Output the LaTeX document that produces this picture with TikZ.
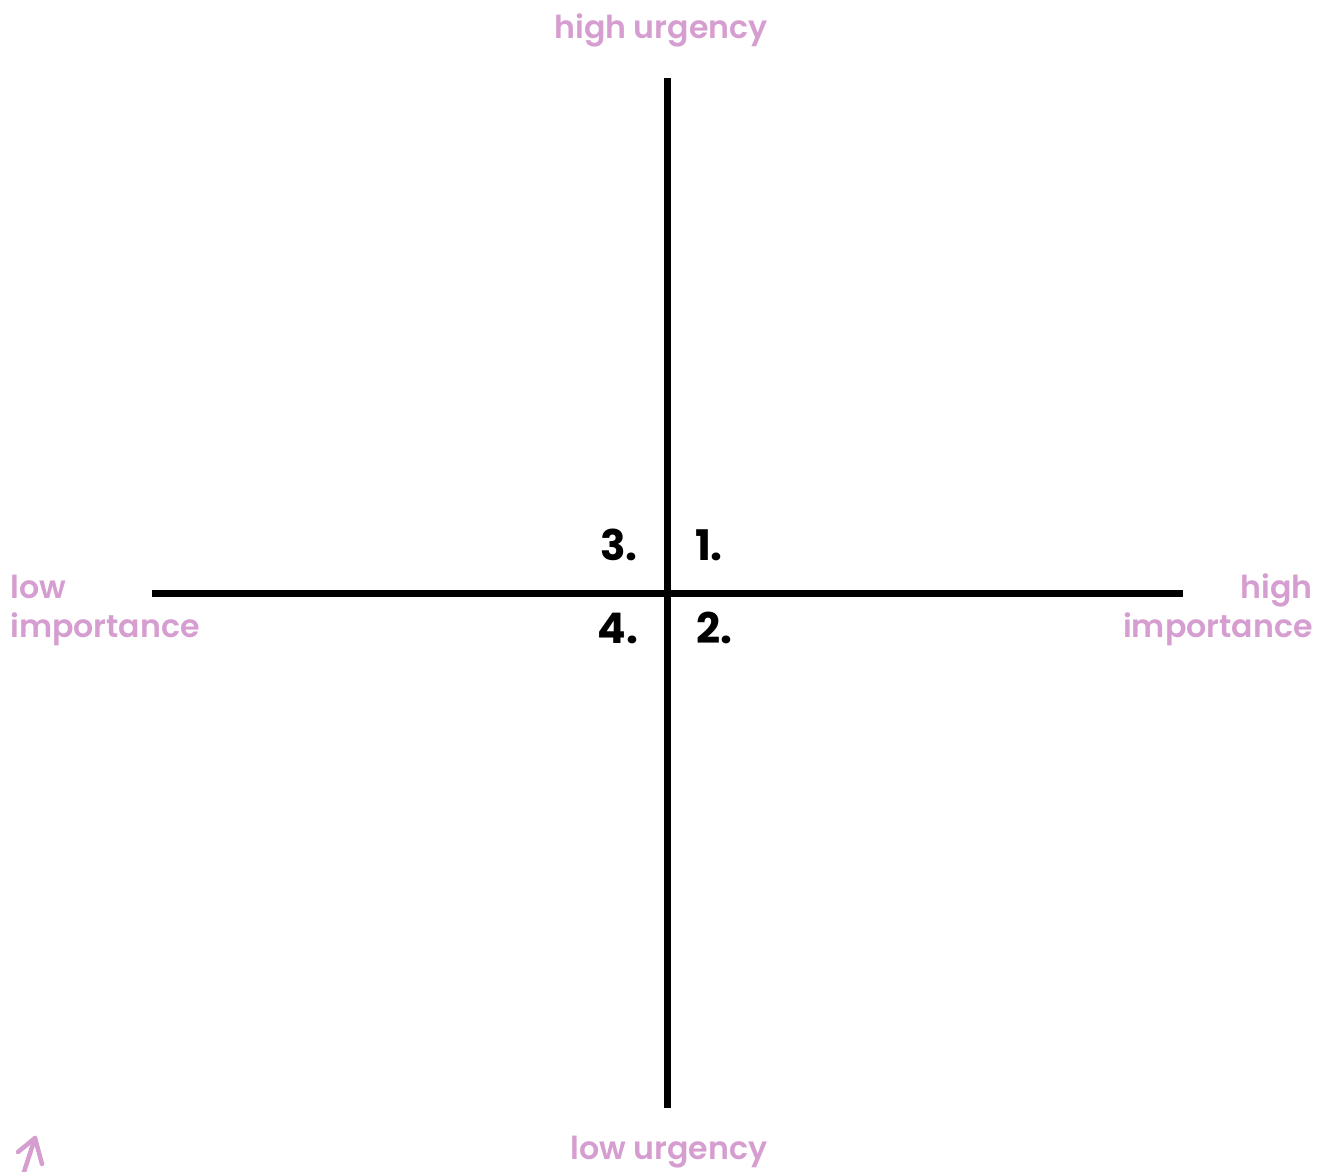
\documentclass[tikz,border=0pt]{standalone}
\usepackage{fontspec}
\usepackage{xcolor}
\usepackage{tikz}
\setmainfont{Poppins}
\newfontfamily\axisfont{Poppins SemiBold}
\definecolor{lilac}{RGB}{214,158,208}

\begin{document}
\begin{tikzpicture}[x=0.02cm, y=-0.02cm,
    axis/.style={line width=0.14cm},
    axislabel/.style={text=lilac, font=\axisfont\fontsize{18}{21}\selectfont, inner sep=0pt},
    quadrant/.style={font=\bfseries\fontsize{24}{28}\selectfont, inner sep=0pt}]
    \useasboundingbox (0,0) rectangle (1328,1171);
    % Axes
    \coordinate (top) at (667,78);
    \coordinate (bottom) at (667,1108);
    \coordinate (left) at (152,593);
    \coordinate (right) at (1183,593);
    \draw[axis] (top) -- (bottom);
    \draw[axis] (left) -- (right);

    % Quadrant numbers
    \node[quadrant] (q3) at (619,545) {3.};
    \node[quadrant] (q1) at (709,545) {1.};
    \node[quadrant] (q4) at (618,628) {4.};
    \node[quadrant] (q2) at (714,628) {2.};

    % Axis labels
    \node[axislabel, anchor=base] (highurg) at (661,38) {high urgency};
    \node[axislabel, anchor=base] (lowurg) at (669,1159) {low urgency};
    \node[axislabel, anchor=base west] (lowimp1) at (10,598) {low};
    \node[axislabel, anchor=base west] (lowimp2) at (10,637) {importance};
    \node[axislabel, anchor=base east] (highimp1) at (1313,598) {high};
    \node[axislabel, anchor=base east] (highimp2) at (1313,637) {importance};

    % Arrow in the corner
    \coordinate (tip) at (35,1138);
    \coordinate (tail) at (23,1175);
    \coordinate (wingl) at (18,1152);
    \coordinate (wingr) at (42,1164);
    \clip (0,0) rectangle (1328,1171);
    \draw[lilac, line width=0.09cm, line cap=round, line join=round] (tail) -- (tip);
    \draw[lilac, line width=0.09cm, line cap=round, line join=round] (wingl) -- (tip) -- (wingr);
\end{tikzpicture}
\end{document}
